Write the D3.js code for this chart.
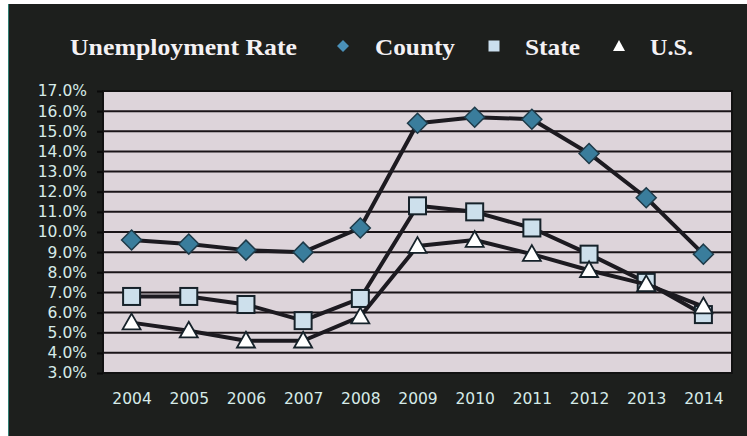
<!DOCTYPE html>
<html>
<head>
<meta charset="utf-8">
<script src="https://cdn.jsdelivr.net/npm/d3@7/dist/d3.min.js"></script>
<style>
  html, body { margin: 0; padding: 0; background: #ffffff; }
  svg { display: block; }
</style>
</head>
<body>
<script>
// Unemployment rate, 2004–2014
const years = ["2004", "2005", "2006", "2007", "2008", "2009", "2010", "2011", "2012", "2013", "2014"];
const county = [9.6, 9.4, 9.1, 9.0, 10.2, 15.4, 15.7, 15.6, 13.9, 11.7, 8.9];
const state  = [6.8, 6.8, 6.4, 5.6, 6.7, 11.3, 11.0, 10.2, 8.9, 7.5, 5.9];
const us     = [5.5, 5.1, 4.6, 4.6, 5.8, 9.3, 9.6, 8.9, 8.1, 7.4, 6.3];
const yTicks = [3, 4, 5, 6, 7, 8, 9, 10, 11, 12, 13, 14, 15, 16, 17];
const legendNames = ["County", "State", "U.S."];
const chartTitle = "Unemployment Rate";

const W = 747, H = 436;
const plot = { left: 103, right: 732, top: 91, bottom: 373 };

const svg = d3.select("body").append("svg")
  .attr("width", W).attr("height", H);

// outer frame
svg.append("rect").attr("width", W).attr("height", H).attr("fill", "#ffffff");
svg.append("rect").attr("x", 8).attr("y", 4).attr("width", W - 8).attr("height", H - 4)
  .attr("fill", "#1d1f1d");
svg.append("line").attr("x1", 8.5).attr("x2", 8.5).attr("y1", 4).attr("y2", H)
  .attr("stroke", "#2f7f74").attr("stroke-width", 1);

const x = d3.scalePoint().domain(years).range([plot.left, plot.right]).padding(0.5);
const y = d3.scaleLinear().domain([3, 17]).range([plot.bottom, plot.top]);

// plot background
svg.append("rect")
  .attr("x", plot.left).attr("y", plot.top)
  .attr("width", plot.right - plot.left).attr("height", plot.bottom - plot.top)
  .attr("fill", "#ddd4da");

// gridlines
svg.append("g").selectAll("line").data(yTicks.slice(1, -1)).join("line")
  .attr("x1", plot.left).attr("x2", plot.right)
  .attr("y1", d => y(d)).attr("y2", d => y(d))
  .attr("stroke", "#1a1418").attr("stroke-width", 2);

// plot border
svg.append("rect")
  .attr("x", plot.left).attr("y", plot.top)
  .attr("width", plot.right - plot.left).attr("height", plot.bottom - plot.top)
  .attr("fill", "none").attr("stroke", "#111111").attr("stroke-width", 2);

// y axis
const yAxis = d3.axisLeft(y).tickValues(yTicks)
  .tickFormat(d => d3.format(".1f")(d) + "%")
  .tickSize(6).tickPadding(10);
const gy = svg.append("g").attr("transform", `translate(${plot.left},0)`).call(yAxis);
gy.select(".domain").remove();
gy.selectAll(".tick line").attr("stroke", "#0a0a0a").attr("stroke-width", 2);
gy.selectAll(".tick text")
  .attr("fill", "#d6ebe8")
  .style("font-family", "'DejaVu Sans', sans-serif")
  .style("font-size", "15.5px");

// x axis
const xAxis = d3.axisBottom(x).tickSize(0).tickPadding(20);
const gx = svg.append("g").attr("transform", `translate(0,${plot.bottom})`).call(xAxis);
gx.select(".domain").remove();
gx.selectAll(".tick text")
  .attr("fill", "#d6ebe8")
  .style("font-family", "'DejaVu Sans', sans-serif")
  .style("font-size", "15.5px");

// series
const line = d3.line().x((d, i) => x(years[i])).y(d => y(d));
const lineColor = "#1c1a20";

function drawSeries(values, markerFn) {
  svg.append("path").datum(values)
    .attr("d", line)
    .attr("fill", "none")
    .attr("stroke", lineColor)
    .attr("stroke-width", 4)
    .attr("stroke-linejoin", "round");
  const g = svg.append("g");
  values.forEach((v, i) => markerFn(g, x(years[i]), y(v)));
}

const diamond = (g, cx, cy, s = 10) => g.append("path")
  .attr("d", `M${cx},${cy - s}L${cx + s},${cy}L${cx},${cy + s}L${cx - s},${cy}Z`)
  .attr("fill", "#3a7d9c").attr("stroke", "#1e3a48").attr("stroke-width", 1.5);

const square = (g, cx, cy, s = 8.5) => g.append("rect")
  .attr("x", cx - s).attr("y", cy - s).attr("width", 2 * s).attr("height", 2 * s)
  .attr("fill", "#cde0ec").attr("stroke", "#16222a").attr("stroke-width", 2);

const triangle = (g, cx, cy, s = 9) => g.append("path")
  .attr("d", `M${cx},${cy - s}L${cx + s},${cy + s * 0.75}L${cx - s},${cy + s * 0.75}Z`)
  .attr("fill", "#ffffff").attr("stroke", "#16222a").attr("stroke-width", 1.8);

drawSeries(county, diamond);
drawSeries(state, square);
drawSeries(us, triangle);

// title and legend
const serif = "'Liberation Serif', 'Times New Roman', serif";
svg.append("text").attr("x", 70).attr("y", 55)
  .attr("fill", "#f4f1f4").style("font-family", serif)
  .style("font-weight", "bold").style("font-size", "24px")
  .attr("textLength", 227).attr("lengthAdjust", "spacingAndGlyphs")
  .text(chartTitle);

const legendItems = [
  { name: legendNames[0], mx: 343, tx: 375, tw: 80,
    draw: (g, cx, cy) => g.append("path")
      .attr("d", `M${cx},${cy - 6}L${cx + 6},${cy}L${cx},${cy + 6}L${cx - 6},${cy}Z`)
      .attr("fill", "#4a90b8") },
  { name: legendNames[1], mx: 494, tx: 525, tw: 55,
    draw: (g, cx, cy) => g.append("rect")
      .attr("x", cx - 5.5).attr("y", cy - 5.5).attr("width", 11).attr("height", 11)
      .attr("fill", "#cadeee") },
  { name: legendNames[2], mx: 619, tx: 650, tw: 43,
    draw: (g, cx, cy) => g.append("path")
      .attr("d", `M${cx},${cy - 6}L${cx + 6},${cy + 5}L${cx - 6},${cy + 5}Z`)
      .attr("fill", "#ffffff") }
];
const lg = svg.append("g");
legendItems.forEach(it => {
  it.draw(lg, it.mx, 46);
  lg.append("text").attr("x", it.tx).attr("y", 55)
    .attr("fill", "#f4f1f4").style("font-family", serif)
    .style("font-weight", "bold").style("font-size", "24px")
    .attr("textLength", it.tw).attr("lengthAdjust", "spacingAndGlyphs")
    .text(it.name);
});
</script>
</body>
</html>
